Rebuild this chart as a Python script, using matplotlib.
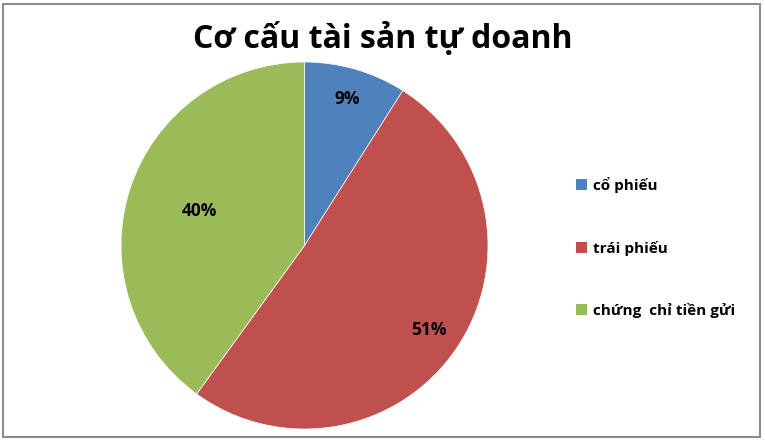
import matplotlib.pyplot as plt
import numpy as np
from matplotlib.patches import Patch, Rectangle

plt.rcParams['font.family'] = ['Open Sans', 'DejaVu Sans']

labels = ['cổ phiếu', 'trái phiếu', 'chứng  chỉ tiền gửi']
values = [9, 51, 40]
colors = ['#4F81BD', '#C0504D', '#9BBB59']
label_dist = [0.83, 0.82, 0.6]

fig = plt.figure(figsize=(7.65, 4.42), dpi=100)
fig.patches.append(Rectangle((0.004, 0.011), 0.99, 0.98, transform=fig.transFigure,
                             fill=False, edgecolor='#8c8c8c', linewidth=1.5))

ax = fig.add_axes([0.1582, 0.0294, 0.4797, 0.8303])
wedges, _ = ax.pie(values, colors=colors, startangle=90, counterclock=False,
                   radius=1, wedgeprops=dict(edgecolor='white', linewidth=0.5))
ax.set_xlim(-1, 1)
ax.set_ylim(-1, 1)
ax.set_aspect('equal')

for w, v, d in zip(wedges, values, label_dist):
    ang = np.deg2rad((w.theta1 + w.theta2) / 2)
    ax.text(d * np.cos(ang), d * np.sin(ang), f'{v}%', ha='center', va='center',
            fontsize=12.5, fontweight='bold', color='black')

fig.text(0.5, 0.912, 'Cơ cấu tài sản tự doanh', ha='center', va='center',
         fontsize=23, fontweight='bold')

handles = [Patch(facecolor=c, edgecolor='none') for c in colors]
fig.legend(handles, labels, loc='center left', bbox_to_anchor=(0.735, 0.44),
           frameon=False, handlelength=0.7, handleheight=0.7, handletextpad=0.4,
           labelspacing=3.1, prop={'size': 11, 'weight': 'bold'})

fig.savefig('out.png', dpi=100)
